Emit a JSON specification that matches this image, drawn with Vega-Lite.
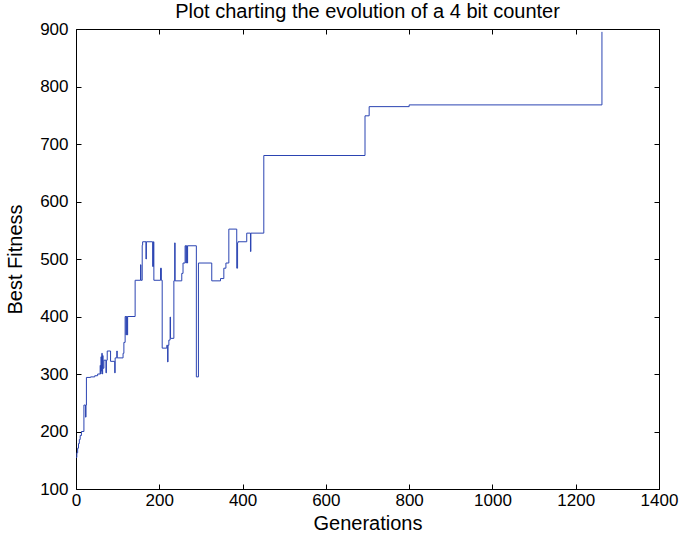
{
  "$schema": "https://vega.github.io/schema/vega-lite/v6.json",
  "width": 583,
  "height": 460,
  "autosize": {"type": "none"},
  "padding": {"left": 76, "top": 29, "right": 24, "bottom": 53},
  "background": "white",
  "config": {
    "view": {"stroke": "black", "strokeWidth": 1},
    "font": "Liberation Sans",
    "axis": {
      "domain": false,
      "grid": false,
      "tickColor": "black",
      "tickSize": -5,
      "labelColor": "black",
      "labelFont": "Liberation Sans",
      "labelFontSize": 17,
      "titleFont": "Liberation Sans",
      "titleFontSize": 20,
      "titleFontWeight": "normal",
      "titleColor": "black"
    }
  },
  "title": {
    "text": "Plot charting the evolution of a 4 bit counter",
    "font": "Liberation Sans",
    "fontSize": 20,
    "fontWeight": "normal",
    "color": "black",
    "anchor": "middle",
    "offset": -2
  },
  "data": {
    "values": [
      {"gen": 0, "fit": 155}, {"gen": 2, "fit": 163}, {"gen": 4, "fit": 171}, {"gen": 6, "fit": 179},
      {"gen": 8, "fit": 186}, {"gen": 10, "fit": 193}, {"gen": 13, "fit": 200}, {"gen": 19, "fit": 246},
      {"gen": 23, "fit": 225}, {"gen": 24, "fit": 246}, {"gen": 25, "fit": 294}, {"gen": 35, "fit": 295},
      {"gen": 45, "fit": 297}, {"gen": 52, "fit": 300}, {"gen": 58, "fit": 315}, {"gen": 59, "fit": 300},
      {"gen": 60, "fit": 330}, {"gen": 61, "fit": 305}, {"gen": 62, "fit": 336}, {"gen": 63, "fit": 300},
      {"gen": 64, "fit": 332}, {"gen": 65, "fit": 310}, {"gen": 67, "fit": 324}, {"gen": 72, "fit": 302},
      {"gen": 73, "fit": 324}, {"gen": 75, "fit": 340}, {"gen": 83, "fit": 322}, {"gen": 93, "fit": 302},
      {"gen": 94, "fit": 328}, {"gen": 98, "fit": 340}, {"gen": 99, "fit": 328}, {"gen": 113, "fit": 336},
      {"gen": 115, "fit": 355}, {"gen": 118, "fit": 400}, {"gen": 120, "fit": 368}, {"gen": 121, "fit": 400},
      {"gen": 123, "fit": 368}, {"gen": 124, "fit": 400}, {"gen": 142, "fit": 463}, {"gen": 155, "fit": 490},
      {"gen": 156, "fit": 463}, {"gen": 159, "fit": 524}, {"gen": 160, "fit": 530}, {"gen": 168, "fit": 500},
      {"gen": 169, "fit": 530}, {"gen": 184, "fit": 487}, {"gen": 186, "fit": 530}, {"gen": 187, "fit": 463},
      {"gen": 203, "fit": 484}, {"gen": 205, "fit": 463}, {"gen": 207, "fit": 345}, {"gen": 218, "fit": 350},
      {"gen": 220, "fit": 321}, {"gen": 221, "fit": 350}, {"gen": 223, "fit": 359}, {"gen": 226, "fit": 399},
      {"gen": 227, "fit": 362}, {"gen": 235, "fit": 462}, {"gen": 237, "fit": 528}, {"gen": 238, "fit": 462},
      {"gen": 254, "fit": 475}, {"gen": 257, "fit": 493}, {"gen": 262, "fit": 523}, {"gen": 264, "fit": 493},
      {"gen": 265, "fit": 523}, {"gen": 267, "fit": 493}, {"gen": 268, "fit": 523}, {"gen": 289, "fit": 295},
      {"gen": 294, "fit": 493}, {"gen": 326, "fit": 462}, {"gen": 347, "fit": 466}, {"gen": 355, "fit": 484},
      {"gen": 360, "fit": 493}, {"gen": 367, "fit": 552}, {"gen": 386, "fit": 484}, {"gen": 388, "fit": 528},
      {"gen": 389, "fit": 530}, {"gen": 410, "fit": 545}, {"gen": 419, "fit": 513}, {"gen": 420, "fit": 545},
      {"gen": 451, "fit": 680}, {"gen": 694, "fit": 749}, {"gen": 704, "fit": 765}, {"gen": 800, "fit": 768},
      {"gen": 1263, "fit": 895}
    ]
  },
  "resolve": {"axis": {"x": "independent", "y": "independent"}},
  "layer": [
    {
      "mark": {"type": "line", "interpolate": "step-after", "color": "#2b44b2", "strokeWidth": 1, "clip": true},
      "encoding": {
        "x": {"field": "gen", "type": "quantitative", "scale": {"domain": [0, 1400], "nice": false},
              "axis": {"orient": "bottom", "title": "Generations", "format": "d", "values": [0,200,400,600,800,1000,1200,1400], "labelPadding": 8, "titlePadding": 5, "labelFlush": false}},
        "y": {"field": "fit", "type": "quantitative", "scale": {"domain": [100, 900], "nice": false, "zero": false},
              "axis": {"orient": "left", "title": "Best Fitness", "format": "d", "values": [100,200,300,400,500,600,700,800,900], "labelPadding": 13, "titlePadding": 14, "labelFlush": false}}
      }
    },
    {
      "mark": {"type": "line", "opacity": 0},
      "encoding": {
        "x": {"field": "gen", "type": "quantitative",
              "axis": {"orient": "top", "title": null, "labels": false, "values": [0,200,400,600,800,1000,1200,1400]}},
        "y": {"field": "fit", "type": "quantitative",
              "axis": {"orient": "right", "title": null, "labels": false, "values": [100,200,300,400,500,600,700,800,900]}}
      }
    }
  ]
}
